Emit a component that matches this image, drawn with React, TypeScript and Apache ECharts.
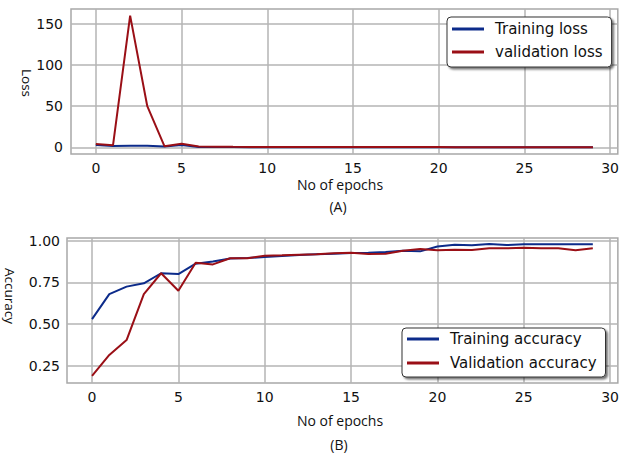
import React, { useEffect, useRef } from "react";
import * as echarts from "echarts";

const epochs = Array.from({ length: 30 }, (_, i) => i);
const xTicks = [0, 5, 10, 15, 20, 25, 30];
const lossTicks = [0, 50, 100, 150];
const accTicks = [0.25, 0.5, 0.75, 1.0];

const trainingLoss = [3, 1.8, 2, 2, 1, 3, 0.6, 0.4, 0.35, 0.3, 0.28, 0.26, 0.25, 0.24, 0.22, 0.21, 0.2, 0.19, 0.18, 0.17, 0.16, 0.15, 0.14, 0.13, 0.12, 0.12, 0.11, 0.1, 0.1, 0.1];
const validationLoss = [4, 2.5, 160, 50, 1.5, 4.5, 1, 0.9, 0.7, 0.6, 0.55, 0.5, 0.5, 0.45, 0.45, 0.4, 0.4, 0.4, 0.35, 0.35, 0.35, 0.3, 0.3, 0.3, 0.3, 0.3, 0.3, 0.3, 0.3, 0.3];
const trainingAcc = [0.53, 0.68, 0.725, 0.745, 0.805, 0.8, 0.862, 0.875, 0.893, 0.896, 0.902, 0.908, 0.914, 0.918, 0.922, 0.926, 0.928, 0.932, 0.94, 0.936, 0.965, 0.976, 0.972, 0.98, 0.974, 0.978, 0.978, 0.978, 0.978, 0.978];
const validationAcc = [0.19, 0.316, 0.405, 0.68, 0.805, 0.7, 0.868, 0.858, 0.895, 0.895, 0.91, 0.912, 0.915, 0.918, 0.924, 0.928, 0.92, 0.922, 0.94, 0.95, 0.942, 0.946, 0.944, 0.954, 0.954, 0.958, 0.954, 0.954, 0.942, 0.954];

const BLUE = "#0c2b8a";
const RED = "#9a0f16";
const GRID = "#b4b4b4";
const FONT = "DejaVu Sans";

export default function App() {
  const ref = useRef<HTMLDivElement>(null);
  useEffect(() => {
    document.body.style.margin = "0";
    const chart = echarts.init(ref.current!, null, { renderer: "svg" });
    const xAxisBase = (gridIndex: number) => ({
      type: "value",
      gridIndex,
      min: -1.45,
      max: 30.45,
      axisLine: { show: false },
      axisTick: { show: false, customValues: xTicks },
      axisLabel: { customValues: xTicks, color: "#111", fontFamily: FONT, fontSize: 14, margin: 7 },
      splitLine: { show: true, lineStyle: { color: GRID, width: 1.5 } },
    });
    const line = (name: string, vals: number[], color: string, idx: number) => ({
      name,
      type: "line",
      xAxisIndex: idx,
      yAxisIndex: idx,
      showSymbol: false,
      symbol: "none",
      data: epochs.map((e, i) => [e, vals[i]]),
      lineStyle: { color, width: 2 },
      itemStyle: { color },
    });
    const legendBase = {
      orient: "vertical",
      icon: "rect",
      itemWidth: 32,
      itemHeight: 3,
      backgroundColor: "#fff",
      borderColor: "#333",
      borderWidth: 1,
      borderRadius: 4,
      shadowColor: "rgba(0,0,0,0.55)",
      shadowBlur: 2,
      shadowOffsetX: 2,
      shadowOffsetY: 2,
      textStyle: { fontFamily: FONT, fontSize: 15, color: "#111", lineHeight: 18, padding: [0, 0, 0, 6] },
    };
    const label = (text: string, x: number, y: number, size: number, rot = 0) => ({
      type: "text",
      x,
      y,
      rotation: rot,
      style: { text, font: `${size}px 'Open Sans'`, fill: "#111", textAlign: "center", textVerticalAlign: "middle" },
    });
    chart.setOption({
      animation: false,
      backgroundColor: "#fff",
      grid: [
        { left: 71, top: 9, width: 552, height: 145, show: true, borderColor: "#a8a8a8", borderWidth: 1.5, backgroundColor: "#fff" },
        { left: 67, top: 238, width: 551, height: 145, show: true, borderColor: "#a8a8a8", borderWidth: 1.5, backgroundColor: "#fff" },
      ],
      xAxis: [xAxisBase(0), xAxisBase(1)],
      yAxis: [
        {
          type: "value",
          gridIndex: 0,
          min: -8,
          max: 168,
          axisLine: { show: false },
          axisTick: { show: false, customValues: lossTicks },
          axisLabel: { customValues: lossTicks, color: "#111", fontFamily: FONT, fontSize: 14, margin: 8 },
          splitLine: { show: true, lineStyle: { color: GRID, width: 1.5 } },
        },
        {
          type: "value",
          gridIndex: 1,
          min: 0.148,
          max: 1.016,
          axisLine: { show: false },
          axisTick: { show: false, customValues: accTicks },
          axisLabel: {
            customValues: accTicks,
            color: "#111",
            fontFamily: FONT,
            fontSize: 14,
            margin: 7,
            formatter: (v: number) => v.toFixed(2),
          },
          splitLine: { show: true, lineStyle: { color: GRID, width: 1.5 } },
        },
      ],
      legend: [
        { ...legendBase, left: 447, top: 17, padding: [3, 9, 6, 5], itemGap: 5, data: ["Training loss", "validation loss"] },
        { ...legendBase, left: 402, top: 328, padding: [2, 9, 5, 5], itemGap: 6, data: ["Training accuracy", "Validation accuracy"] },
      ],
      series: [
        line("Training loss", trainingLoss, BLUE, 0),
        line("validation loss", validationLoss, RED, 0),
        line("Training accuracy", trainingAcc, BLUE, 1),
        line("Validation accuracy", validationAcc, RED, 1),
      ],
      graphic: [
        label("No of epochs", 340, 184, 14),
        label("(A)", 338, 206, 14),
        label("No of epochs", 340, 420, 14),
        label("(B)", 339, 444, 14),
        label("Loss", 27, 83, 13.5, -Math.PI / 2),
        label("Accuracy", 10, 296, 13.5, -Math.PI / 2),
      ],
    });
    return () => chart.dispose();
  }, []);
  return <div ref={ref} style={{ position: "fixed", left: 0, top: 0, width: 622, height: 454 }} />;
}
